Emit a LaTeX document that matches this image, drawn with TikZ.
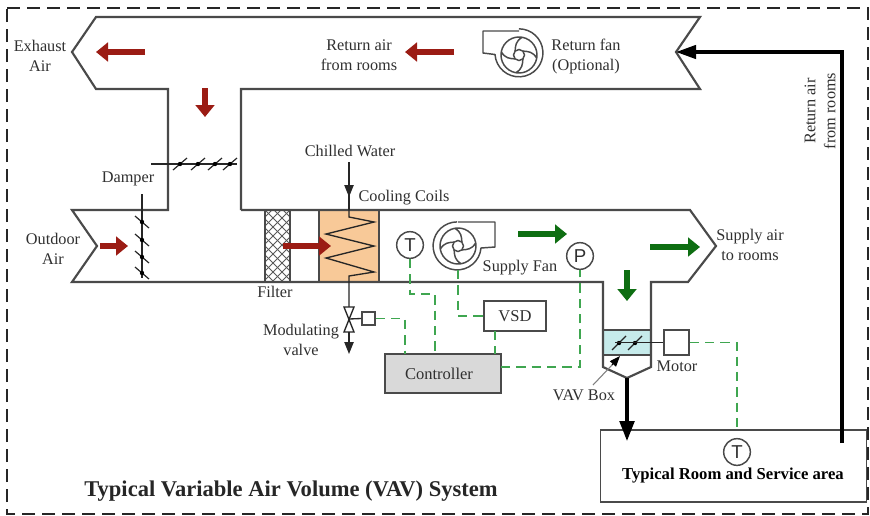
\documentclass[tikz,border=0pt]{standalone}
\usepackage{fontspec}
\setmainfont{Liberation Serif}
\newfontfamily\lblsans{Liberation Sans}
\usetikzlibrary{arrows.meta,calc}
\definecolor{ductc}{HTML}{4A4A4A}
\definecolor{redarrow}{HTML}{9B1C14}
\definecolor{greenarrow}{HTML}{0E6E12}
\definecolor{ctlgreen}{HTML}{3FA650}
\definecolor{txtc}{HTML}{303030}
\definecolor{coilfill}{HTML}{F8C998}
\definecolor{vavfill}{HTML}{C6EBEB}
\definecolor{ctrlfill}{HTML}{D9D9D9}
\tikzset{
  duct/.style={draw=ductc,line width=1.6pt,line join=miter},
  lbl/.style={text=txtc,font=\fontsize{12.2pt}{15pt}\selectfont,align=center,inner sep=0pt},
  redflow/.style={draw=redarrow,line width=4.6pt,-{Triangle[length=9pt,width=14pt]}},
  greenflow/.style={draw=greenarrow,line width=4.6pt,-{Triangle[length=9pt,width=14pt]}},
  ctl/.style={draw=ctlgreen,line width=1.3pt,dash pattern=on 7pt off 4.5pt},
  sensor/.style={circle,draw=ductc,line width=1.1pt,fill=white,minimum size=20pt,inner sep=0pt,text=txtc,font=\lblsans\fontsize{14pt}{14pt}\selectfont},
  ebox/.style={draw=ductc,line width=1.2pt,fill=white,inner sep=0pt,text=txtc,font=\fontsize{12.4pt}{14pt}\selectfont},
  pipe/.style={draw=black!85,line width=1pt},
  heavy/.style={draw=black,line width=2.5pt},
  blade/.style={draw=black!85,line width=0.9pt},
  fanline/.style={draw=ductc,line width=1.1pt},
}
\begin{document}
\begin{tikzpicture}[x=0.75pt,y=-0.75pt]
\useasboundingbox (0,0) rectangle (870,515);
\fill[white] (0,0) rectangle (870,515);
% frame
\draw[black!85,line width=0.9pt,dash pattern=on 10pt off 5pt] (7,8) -- (868,8) -- (868,514) -- (7,514) -- cycle;

% fills
\fill[coilfill] (319,210) rectangle (379,282);
\fill[vavfill] (603,330) rectangle (651,355);

% filter
\begin{scope}
\clip (265,210) rectangle (290,282);
\foreach \k in {-72,-63,...,126} {
  \draw[black!65,line width=0.7pt] (265+\k,210) -- ++(90,90);
  \draw[black!65,line width=0.7pt] (290-\k,210) -- ++(-90,90);
}
\end{scope}
\draw[duct,line width=1.5pt] (265,210) rectangle (290,282);

% ducts
\draw[duct] (241,210) -- (241,89) -- (700,89) -- (676,52) -- (700,17) -- (96,17) -- (72,52) -- (96,89) -- (168,89) -- (168,210) -- (72,210) -- (97,246) -- (72,282) -- (603,282) -- (603,367) -- (627,378) -- (651,367) -- (651,282) -- (688,282) -- (716,246) -- (690,210) -- (241,210);
\draw[duct,line width=1.3pt] (319,210) rectangle (379,282);
\draw[duct,line width=1.3pt] (603,330) rectangle (651,355);

% dampers
\draw[blade] (151,164) -- (237,164);
\foreach \p in {180,198,215,230} {
  \draw[blade] (\p-7,170) -- (\p+7,158);
  \fill[black] (\p,164) circle (2.2);
}
\draw[blade] (142,194) -- (142,278);
\foreach \p in {222,240,257,273} {
  \draw[blade] (135,\p-6) -- (149,\p+6);
  \fill[black] (142,\p) circle (2.2);
}
\foreach \p in {619,635} {
  \draw[blade] (\p-7,350) -- (\p+7,336);
  \fill[black] (\p,343) circle (2.2);
}

% coil
\coordinate (cwtop) at (349,162);
\coordinate (coiltop) at (349,210);
\coordinate (coilbot) at (349,282);
\coordinate (valvetop) at (349,307);
\coordinate (valvebot) at (349,332);
\coordinate (drain) at (349,354);
\draw[pipe,-{Triangle[length=9pt,width=7pt]}] (cwtop) -- (349,197);
\draw[pipe] (349,195) -- (coiltop);
\draw[pipe,line join=miter] (coiltop) -- (349,217) -- (374,222) -- (326,234) -- (374,246) -- (326,258) -- (374,272) -- (349,276) -- (coilbot) -- (valvetop);
\draw[pipe,fill=white] (344,307) -- (354,307) -- (344,332) -- (354,332) -- cycle;
\draw[pipe,-{Triangle[length=9pt,width=7pt]}] (valvebot) -- (drain);

% supply fan
\draw[fanline,line join=round] (458,222) -- (495,222) -- (495,247) -- (481,248) arc[start angle=5,end angle=270,radius=24];
\begin{scope}[shift={(458,246)}]
  \draw[fanline] (0,0) circle (18);
  \draw[fanline] (0,0) circle (5.5);
  \foreach \a in {45,135,225,315} {
    \draw[fanline] (\a:5.5) .. controls (\a-25:10) and (\a-30:14) .. (\a-55:18);
  }
\end{scope}
% return fan
\draw[fanline,line join=round] (519,31) -- (483,31) -- (483,53) -- (495,54.5) arc[start angle=176,end angle=-90,radius=24];
\begin{scope}[shift={(519,55)}]
  \draw[fanline] (0,0) circle (18);
  \draw[fanline] (0,0) circle (5.5);
  \foreach \a in {45,135,225,315} {
    \draw[fanline] (\a:5.5) .. controls (\a+25:10) and (\a+30:14) .. (\a+55:18);
  }
\end{scope}

% flow arrows
\draw[redflow] (145,52) coordinate (ra1) -- (96,52);
\draw[redflow] (205,88) coordinate (ra2) -- (205,117);
\draw[redflow] (100,246) coordinate (ra3) -- (128,246);
\draw[redflow] (283,246) coordinate (ra4) -- (331,246);
\draw[redflow] (454,52) coordinate (ra5) -- (405,52);
\draw[greenflow] (518,234) coordinate (ga1) -- (567,234);
\draw[greenflow] (650,247) coordinate (ga2) -- (700,247);
\draw[greenflow] (627,270) coordinate (ga3) -- (627,301);

% equipment
\node[sensor] (T1) at (410,245) {T};
\node[sensor] (P1) at (580,256) {P};
\node[ebox,minimum width=46.5pt,minimum height=22.5pt] (vsd) at (515,316) {VSD};
\node[ebox,fill=ctrlfill,minimum width=87pt,minimum height=29pt] (ctrl) at (443,373.5) {};
\node[text=txtc,inner sep=0pt,font=\fontsize{12.4pt}{14pt}\selectfont] (ctrlt) at (439,374) {Controller};
\node[ebox,minimum width=9.75pt,minimum height=9.75pt] (act) at (368.5,318.5) {};
\node[ebox,minimum width=18.75pt,minimum height=18.75pt] (motor) at (676.5,342.5) {};
\node[draw=ductc,line width=1.2pt,minimum width=199.5pt,minimum height=54pt,inner sep=0pt] (room) at (733.5,466) {};
\node[sensor] (T2) at (737,452) {T};
\coordinate (fanS) at (458,270);
\coordinate (valveC) at (349,319);
\coordinate (ctrlA) at (405,354);
\coordinate (ctrlB) at (435,354);
\coordinate (ctrlC) at (495,354);
\coordinate (vsdB) at (495,331);
\coordinate (ctrlR) at (501,367);
\coordinate (roomT) at (737,430);
\coordinate (vavC) at (615,342.5);
\coordinate (hopper) at (627,378);

% connectors
\draw[pipe] (valveC) -- (act.west);
\draw[pipe] (vavC) -- (motor.west);
\draw[ctl] (act.east) -| (ctrlA);
\draw[ctl] (T1.south) |- (435,294) -- (ctrlB);
\draw[ctl] (fanS) |- (vsd.west);
\draw[ctl] (vsdB) -- (ctrlC);
\draw[ctl] (ctrlR) -| (P1.south);
\draw[ctl] (motor.east) -| (roomT);
\draw[heavy,-{Triangle[length=15pt,width=11pt]}] (hopper) -- (627,441);
\coordinate (roomR) at (842,443);
\coordinate (notch) at (676,52);
\draw[heavy,-{Triangle[length=15pt,width=10pt]},line join=miter] (roomR) -- (842,52) -- (notch);
\coordinate (vavL) at (593,385);
\draw[draw=gray,line width=0.8pt] (vavL) -- (612,365);
\draw[black,line width=0.8pt,-{Triangle[length=8pt,width=6pt]}] (612,365) -- (620,356);

% labels
\node[lbl] (l1) at (40,56) {Exhaust\\Air};
\node[lbl] (l2) at (128,179) {Damper};
\node[lbl] (l3) at (53,249) {Outdoor\\Air};
\node[lbl] (l4) at (275,292) {Filter};
\node[lbl] (l5) at (350,151) {Chilled Water};
\node[lbl] (l6) at (404,198) {Cooling Coils};
\node[lbl] (l7) at (520,268) {Supply Fan};
\node[lbl] (l8) at (750,245) {Supply air\\to rooms};
\node[lbl] (l9) at (359,55) {Return air\\from rooms};
\node[lbl] (l10) at (586,56) {Return fan\\(Optional)};
\node[lbl] (l11) at (301,340) {Modulating\\valve};
\node[lbl] (l12) at (584,395) {VAV Box};
\node[lbl] (l13) at (677,366) {Motor};
\node[lbl,rotate=90] (l14) at (820,111) {Return air\\from rooms};
\node[lbl,text=black,font=\bfseries\fontsize{12.5pt}{14pt}\selectfont] (l15) at (733,476) {Typical Room and Service area};
\node[lbl,text=black!85,font=\bfseries\fontsize{16.9pt}{18pt}\selectfont] (title) at (291,491) {Typical Variable Air Volume (VAV) System};
\end{tikzpicture}
\end{document}
